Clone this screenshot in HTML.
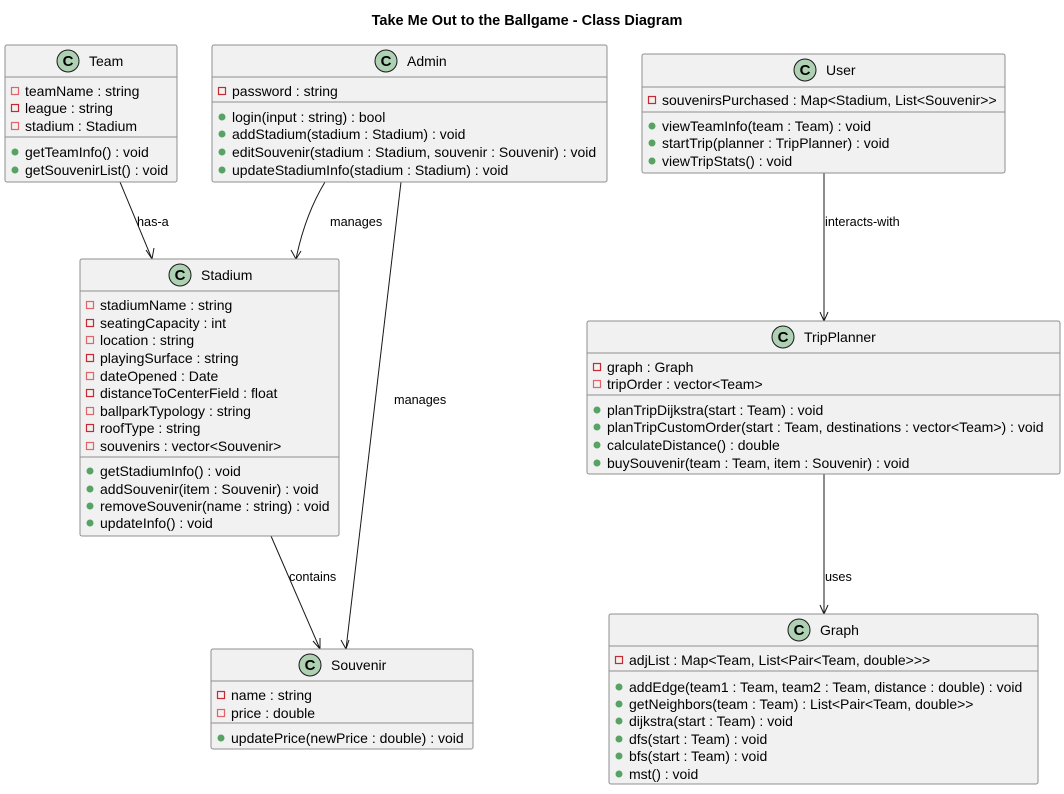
<!DOCTYPE html>
<html><head><meta charset="utf-8"><style>
body{margin:0;background:#fff}
svg text{font-family:"Liberation Sans",Arial,sans-serif;font-size:14px;fill:#000}
svg text.l{font-size:12.7px}
.b{fill:#F1F1F1;stroke:#8f8f8f;stroke-width:1}
.s{stroke:#8f8f8f;stroke-width:1}
.a{fill:none;stroke:#E0656A;stroke-width:1.2}
.a2{fill:none;stroke:#C82930;stroke-width:1.2}
.m{fill:#56A364}
.ci{fill:#ADD1B2;stroke:#181818;stroke-width:1}
.e{stroke:#181818;stroke-width:1;fill:none}
</style></head><body>
<svg width="1064" height="789" xmlns="http://www.w3.org/2000/svg">
<text x="527" y="25" text-anchor="middle" style="font-weight:bold;font-size:14.5px">Take Me Out to the Ballgame - Class Diagram</text>

<path class="e" d="M120,182 L152,259"/><path class="e" d="M146,250 L152,259 L154,248"/>
<text class="l" x="137" y="226">has-a</text>
<path class="e" d="M325,182 Q305,215 296,259"/><path class="e" d="M291,250 L296,259 L301,251"/>
<text class="l" x="330" y="226">manages</text>
<path class="e" d="M401,182 L346,649"/><path class="e" d="M341,640 L346,649 L349,640"/>
<text class="l" x="394" y="404">manages</text>
<path class="e" d="M271,536 L320,649"/><path class="e" d="M313,641 L320,649 L320,638"/>
<text class="l" x="289" y="581">contains</text>
<path class="e" d="M824,173 L824,321"/><path class="e" d="M820,312 L824,321 L828,312"/>
<text class="l" x="825" y="226">interacts-with</text>
<path class="e" d="M824,474 L824,614"/><path class="e" d="M820,605 L824,614 L828,605"/>
<text class="l" x="825" y="581">uses</text>

<!-- Team -->
<rect class="b" x="5" y="45" width="172" height="137" rx="2"/>
<line class="s" x1="5" y1="77" x2="177" y2="77"/><line class="s" x1="5" y1="137" x2="177" y2="137"/>
<circle class="ci" cx="68" cy="61" r="11"/><text x="68" y="66" text-anchor="middle" style="font-weight:bold;font-size:15px">C</text>
<text x="89" y="66">Team</text>
<rect class="a" x="11.5" y="87.5" width="7" height="7"/><text x="25" y="96">teamName : string</text>
<rect class="a2" x="11.5" y="104.5" width="7" height="7"/><text x="25" y="113">league : string</text>
<rect class="a" x="11.5" y="122.5" width="7" height="7"/><text x="25" y="131">stadium : Stadium</text>
<circle class="m" cx="15" cy="152" r="3.5"/><text x="25" y="157">getTeamInfo() : void</text>
<circle class="m" cx="15" cy="170" r="3.5"/><text x="25" y="175">getSouvenirList() : void</text>

<!-- Admin -->
<rect class="b" x="212" y="45" width="395" height="137" rx="2"/>
<line class="s" x1="212" y1="77" x2="607" y2="77"/><line class="s" x1="212" y1="102" x2="607" y2="102"/>
<circle class="ci" cx="386" cy="61" r="11"/><text x="386" y="66" text-anchor="middle" style="font-weight:bold;font-size:15px">C</text>
<text x="407" y="66">Admin</text>
<rect class="a2" x="218.5" y="87.5" width="7" height="7"/><text x="232" y="96">password : string</text>
<circle class="m" cx="222" cy="117" r="3.5"/><text x="232" y="122">login(input : string) : bool</text>
<circle class="m" cx="222" cy="134" r="3.5"/><text x="232" y="139">addStadium(stadium : Stadium) : void</text>
<circle class="m" cx="222" cy="152" r="3.5"/><text x="232" y="157">editSouvenir(stadium : Stadium, souvenir : Souvenir) : void</text>
<circle class="m" cx="222" cy="170" r="3.5"/><text x="232" y="175">updateStadiumInfo(stadium : Stadium) : void</text>

<!-- User -->
<rect class="b" x="642" y="54" width="363" height="119" rx="2"/>
<line class="s" x1="642" y1="87" x2="1005" y2="87"/><line class="s" x1="642" y1="112" x2="1005" y2="112"/>
<circle class="ci" cx="805" cy="70" r="11"/><text x="805" y="75" text-anchor="middle" style="font-weight:bold;font-size:15px">C</text>
<text x="826" y="75">User</text>
<rect class="a2" x="648.5" y="96.5" width="7" height="7"/><text x="662" y="105">souvenirsPurchased : Map&lt;Stadium, List&lt;Souvenir&gt;&gt;</text>
<circle class="m" cx="652" cy="126" r="3.5"/><text x="662" y="131">viewTeamInfo(team : Team) : void</text>
<circle class="m" cx="652" cy="143" r="3.5"/><text x="662" y="148">startTrip(planner : TripPlanner) : void</text>
<circle class="m" cx="652" cy="161" r="3.5"/><text x="662" y="166">viewTripStats() : void</text>

<!-- Stadium -->
<rect class="b" x="80" y="259" width="259" height="277" rx="2"/>
<line class="s" x1="80" y1="291" x2="339" y2="291"/><line class="s" x1="80" y1="457" x2="339" y2="457"/>
<circle class="ci" cx="180" cy="275" r="11"/><text x="180" y="280" text-anchor="middle" style="font-weight:bold;font-size:15px">C</text>
<text x="201" y="280">Stadium</text>
<rect class="a" x="86.5" y="301.5" width="7" height="7"/><text x="100" y="310">stadiumName : string</text>
<rect class="a2" x="86.5" y="319.5" width="7" height="7"/><text x="100" y="328">seatingCapacity : int</text>
<rect class="a" x="86.5" y="336.5" width="7" height="7"/><text x="100" y="345">location : string</text>
<rect class="a2" x="86.5" y="354.5" width="7" height="7"/><text x="100" y="363">playingSurface : string</text>
<rect class="a" x="86.5" y="372.5" width="7" height="7"/><text x="100" y="381">dateOpened : Date</text>
<rect class="a2" x="86.5" y="389.5" width="7" height="7"/><text x="100" y="398">distanceToCenterField : float</text>
<rect class="a" x="86.5" y="407.5" width="7" height="7"/><text x="100" y="416">ballparkTypology : string</text>
<rect class="a2" x="86.5" y="424.5" width="7" height="7"/><text x="100" y="433">roofType : string</text>
<rect class="a" x="86.5" y="442.5" width="7" height="7"/><text x="100" y="451">souvenirs : vector&lt;Souvenir&gt;</text>
<circle class="m" cx="90" cy="471" r="3.5"/><text x="100" y="476">getStadiumInfo() : void</text>
<circle class="m" cx="90" cy="489" r="3.5"/><text x="100" y="494">addSouvenir(item : Souvenir) : void</text>
<circle class="m" cx="90" cy="506" r="3.5"/><text x="100" y="511">removeSouvenir(name : string) : void</text>
<circle class="m" cx="90" cy="523" r="3.5"/><text x="100" y="528">updateInfo() : void</text>

<!-- TripPlanner -->
<rect class="b" x="587" y="321" width="473" height="153" rx="2"/>
<line class="s" x1="587" y1="353" x2="1060" y2="353"/><line class="s" x1="587" y1="395" x2="1060" y2="395"/>
<circle class="ci" cx="783" cy="337" r="11"/><text x="783" y="342" text-anchor="middle" style="font-weight:bold;font-size:15px">C</text>
<text x="804" y="342">TripPlanner</text>
<rect class="a2" x="593.5" y="363.5" width="7" height="7"/><text x="607" y="372">graph : Graph</text>
<rect class="a" x="593.5" y="380.5" width="7" height="7"/><text x="607" y="389">tripOrder : vector&lt;Team&gt;</text>
<circle class="m" cx="597" cy="410" r="3.5"/><text x="607" y="415">planTripDijkstra(start : Team) : void</text>
<circle class="m" cx="597" cy="427" r="3.5"/><text x="607" y="432">planTripCustomOrder(start : Team, destinations : vector&lt;Team&gt;) : void</text>
<circle class="m" cx="597" cy="445" r="3.5"/><text x="607" y="450">calculateDistance() : double</text>
<circle class="m" cx="597" cy="463" r="3.5"/><text x="607" y="468">buySouvenir(team : Team, item : Souvenir) : void</text>

<!-- Souvenir -->
<rect class="b" x="211" y="649" width="262" height="100" rx="2"/>
<line class="s" x1="211" y1="681" x2="473" y2="681"/><line class="s" x1="211" y1="723" x2="473" y2="723"/>
<circle class="ci" cx="310" cy="665" r="11"/><text x="310" y="670" text-anchor="middle" style="font-weight:bold;font-size:15px">C</text>
<text x="331" y="670">Souvenir</text>
<rect class="a2" x="217.5" y="691.5" width="7" height="7"/><text x="231" y="700">name : string</text>
<rect class="a" x="217.5" y="709.5" width="7" height="7"/><text x="231" y="718">price : double</text>
<circle class="m" cx="221" cy="738" r="3.5"/><text x="231" y="743">updatePrice(newPrice : double) : void</text>

<!-- Graph -->
<rect class="b" x="609" y="614" width="429" height="170" rx="2"/>
<line class="s" x1="609" y1="646" x2="1038" y2="646"/><line class="s" x1="609" y1="671" x2="1038" y2="671"/>
<circle class="ci" cx="799" cy="630" r="11"/><text x="799" y="635" text-anchor="middle" style="font-weight:bold;font-size:15px">C</text>
<text x="820" y="635">Graph</text>
<rect class="a2" x="615.5" y="656.5" width="7" height="7"/><text x="629" y="665">adjList : Map&lt;Team, List&lt;Pair&lt;Team, double&gt;&gt;&gt;</text>
<circle class="m" cx="619" cy="687" r="3.5"/><text x="629" y="692">addEdge(team1 : Team, team2 : Team, distance : double) : void</text>
<circle class="m" cx="619" cy="704" r="3.5"/><text x="629" y="709">getNeighbors(team : Team) : List&lt;Pair&lt;Team, double&gt;&gt;</text>
<circle class="m" cx="619" cy="721" r="3.5"/><text x="629" y="726">dijkstra(start : Team) : void</text>
<circle class="m" cx="619" cy="739" r="3.5"/><text x="629" y="744">dfs(start : Team) : void</text>
<circle class="m" cx="619" cy="756" r="3.5"/><text x="629" y="761">bfs(start : Team) : void</text>
<circle class="m" cx="619" cy="774" r="3.5"/><text x="629" y="779">mst() : void</text>
</svg>
</body></html>
